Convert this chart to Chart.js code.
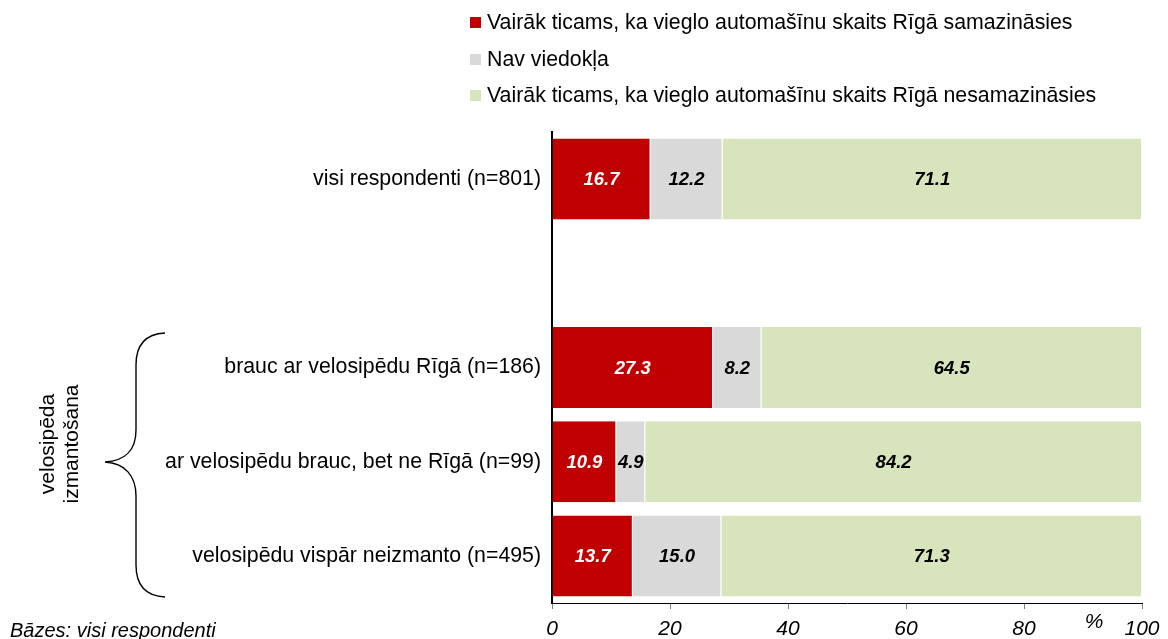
<!DOCTYPE html>
<html><head><meta charset="utf-8">
<script src="https://cdn.jsdelivr.net/npm/chart.js@4/dist/chart.umd.min.js"></script>
<style>html,body{margin:0;padding:0;background:#fff;overflow:hidden}canvas{display:block}</style>
</head><body>
<canvas id="c" width="1168" height="639"></canvas>
<script>
const categories = ['visi respondenti (n=801)', '', 'brauc ar velosipēdu Rīgā (n=186)', 'ar velosipēdu brauc, bet ne Rīgā (n=99)', 'velosipēdu vispār neizmanto (n=495)'];
const seriesNames = ['Vairāk ticams, ka vieglo automašīnu skaits Rīgā samazināsies', 'Nav viedokļa', 'Vairāk ticams, ka vieglo automašīnu skaits Rīgā nesamazināsies'];
const decrease = [16.7, null, 27.3, 10.9, 13.7];
const noOpinion = [12.2, null, 8.2, 4.9, 15.0];
const noDecrease = [71.1, null, 64.5, 84.2, 71.3];
const xTicks = [0, 20, 40, 60, 80, 100];
const colors = ['#C00000', '#D9D9D9', '#D8E4BC'];
const labelColors = ['#FFFFFF', '#000000', '#000000'];
const FONT = "'Liberation Sans', Arial, sans-serif";

const extras = {
  id: 'extras',
  afterDatasetsDraw(chart) {
    const ctx = chart.ctx;
    ctx.save();
    ctx.textAlign = 'center';
    ctx.textBaseline = 'middle';
    ctx.font = 'italic bold 18.5px ' + FONT;
    chart.data.datasets.forEach((ds, i) => {
      const meta = chart.getDatasetMeta(i);
      meta.data.forEach((el, j) => {
        const v = ds.data[j];
        if (v === null || v === undefined) return;
        const cx = (el.x + el.base) / 2;
        ctx.fillStyle = labelColors[i];
        ctx.fillText(v.toFixed(1), cx, el.y + 1);
      });
    });
    ctx.restore();
  },
  afterDraw(chart) {
    const ctx = chart.ctx;
    ctx.save();
    // legend
    const rows = [22, 59, 95];
    ctx.font = '21.3px ' + FONT;
    ctx.textBaseline = 'middle';
    ctx.textAlign = 'left';
    seriesNames.forEach((n, i) => {
      ctx.fillStyle = colors[i];
      ctx.fillRect(470, rows[i] - 5, 11, 11);
      ctx.fillStyle = '#000';
      ctx.fillText(n, 487, rows[i] + 1);
    });
    // % label
    ctx.font = 'italic 21px ' + FONT;
    ctx.textAlign = 'center';
    ctx.fillText('%', 1094, 622);
    // footnote
    ctx.textAlign = 'left';
    ctx.font = 'italic 20px ' + FONT;
    ctx.fillText('Bāzes: visi respondenti', 10, 631);
    // brace
    ctx.strokeStyle = '#000';
    ctx.lineWidth = 1.4;
    ctx.beginPath();
    ctx.moveTo(165, 333);
    ctx.bezierCurveTo(145, 334, 136, 345, 136, 365);
    ctx.lineTo(136, 430);
    ctx.bezierCurveTo(136, 450, 125, 461, 105, 462);
    ctx.bezierCurveTo(125, 463, 136, 476, 136, 496);
    ctx.lineTo(136, 565);
    ctx.bezierCurveTo(136, 585, 145, 596, 165, 597);
    ctx.stroke();
    // rotated group label
    ctx.translate(60, 444);
    ctx.rotate(-Math.PI / 2);
    ctx.font = '21px ' + FONT;
    ctx.textAlign = 'center';
    ctx.fillStyle = '#000';
    ctx.fillText('velosipēda', 0, -12);
    ctx.fillText('izmantošana', 0, 12);
    ctx.restore();
  }
};

new Chart(document.getElementById('c'), {
  type: 'bar',
  data: {
    labels: categories,
    datasets: [decrease, noOpinion, noDecrease].map((d, i) => ({
      label: seriesNames[i],
      data: d,
      backgroundColor: colors[i],
      borderColor: 'rgba(255,255,255,0.9)',
      borderWidth: {left: 0, right: 1, top: 0, bottom: 0},
      borderSkipped: false,
      barPercentage: 0.86,
      categoryPercentage: 1.0
    }))
  },
  options: {
    indexAxis: 'y',
    responsive: false,
    devicePixelRatio: 1,
    animation: false,
    layout: {padding: {top: 132, right: 26, bottom: 0, left: 0}},
    plugins: {legend: {display: false}, tooltip: {enabled: false}},
    scales: {
      x: {
        stacked: true,
        min: 0, max: 100,
        afterFit(s) { s.height = 36; },
        afterBuildTicks(s) { s.ticks = xTicks.map(v => ({value: v})); },
        grid: {display: true, drawOnChartArea: false, drawTicks: true, tickLength: 6, color: '#808080'},
        border: {display: true, color: '#000', width: 1},
        ticks: {color: '#000', font: {family: FONT, size: 21, style: 'italic'}, padding: 8, maxRotation: 0}
      },
      y: {
        stacked: true,
        afterFit(s) { s.width = 552; },
        grid: {display: false, drawTicks: false},
        border: {display: true, color: '#000', width: 2},
        ticks: {color: '#000', font: {family: FONT, size: 21.3}, padding: 11}
      }
    }
  },
  plugins: [extras]
});
</script>
</body></html>
